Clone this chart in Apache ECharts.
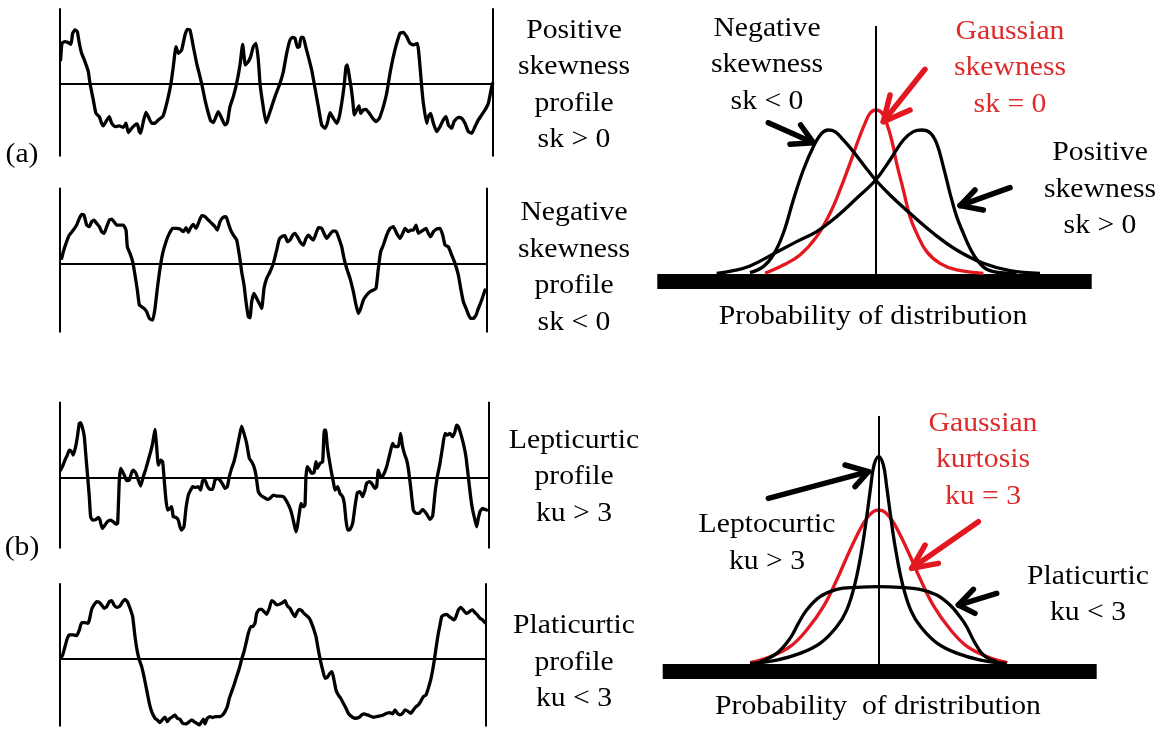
<!DOCTYPE html>
<html>
<head>
<meta charset="utf-8">
<script src="https://cdn.jsdelivr.net/npm/echarts@6/dist/echarts.min.js"></script>
<style>html,body{margin:0;padding:0;background:#fff}#chart{width:1172px;height:733px}</style>
</head>
<body>
<div id="chart"></div>
<script>
// ---------- DATA (position along profile, height relative to mean line) ----------
const profilePositiveSkew = [[62,70],[66,120],[75,125],[85,122],[93,117],[98,150],[105,160],[112,155],[118,120],[125,90],[135,65],[145,35],[150,0],[160,-50],[168,-90],[178,-100],[185,-120],[190,-128],[198,-115],[208,-100],[215,-120],[225,-130],[238,-128],[250,-132],[258,-120],[265,-148],[275,-135],[285,-125],[292,-122],[298,-145],[302,-150],[310,-115],[318,-87],[325,-100],[335,-120],[345,-120],[355,-110],[368,-100],[375,-80],[385,-40],[393,0],[400,50],[408,110],[415,90],[425,100],[435,145],[442,162],[450,160],[460,110],[470,60],[480,20],[487,-10],[495,-50],[505,-90],[512,-112],[520,-118],[530,-95],[535,-85],[545,-105],[555,-125],[562,-118],[570,-70],[580,-40],[590,0],[600,55],[608,117],[616,55],[625,65],[632,80],[640,110],[648,120],[655,70],[660,0],[668,-60],[678,-118],[685,-100],[695,-70],[705,-40],[720,0],[730,35],[740,90],[750,130],[757,138],[765,135],[772,108],[778,110],[783,138],[790,138],[797,110],[805,80],[815,40],[825,-15],[835,-70],[845,-125],[855,-135],[862,-120],[870,-88],[880,-105],[890,-120],[898,-100],[905,-60],[912,-10],[918,50],[922,55],[928,20],[933,-10],[938,-50],[943,-95],[950,-80],[957,-68],[962,-90],[970,-80],[978,-78],[988,-90],[998,-105],[1008,-115],[1018,-105],[1030,-70],[1040,-30],[1050,30],[1060,80],[1070,120],[1080,150],[1090,153],[1100,140],[1110,120],[1120,115],[1132,120],[1140,50],[1145,-10],[1150,-60],[1160,-120],[1165,-100],[1172,-90],[1180,-120],[1190,-145],[1200,-130],[1210,-110],[1218,-100],[1225,-125],[1235,-135],[1242,-115],[1255,-102],[1265,-105],[1275,-120],[1285,-145],[1295,-150],[1305,-130],[1315,-110],[1325,-95],[1335,-80],[1345,-60],[1355,-10],[1358,0]];

const profileNegativeSkew = [[65,15],[70,35],[78,60],[88,85],[100,100],[110,115],[118,135],[125,147],[132,145],[140,115],[148,110],[155,125],[162,130],[170,120],[178,110],[185,95],[192,90],[200,110],[208,130],[215,133],[222,125],[230,115],[240,115],[250,115],[258,100],[262,50],[270,30],[278,5],[285,-35],[292,-80],[298,-125],[305,-130],[312,-135],[320,-145],[328,-165],[338,-170],[345,-135],[352,-75],[360,-15],[368,30],[378,65],[388,90],[398,105],[410,105],[420,103],[430,95],[438,107],[445,93],[452,107],[460,117],[468,105],[475,120],[485,143],[495,140],[505,130],[515,120],[525,110],[532,100],[540,125],[548,137],[558,140],[565,120],[572,100],[580,85],[590,70],[598,25],[605,-25],[612,-65],[618,-115],[625,-160],[630,-163],[635,-115],[642,-90],[650,-105],[658,-120],[665,-135],[672,-75],[680,-45],[690,-25],[700,0],[710,40],[718,73],[725,80],[735,83],[742,65],[750,70],[758,85],[765,90],[772,80],[780,65],[790,55],[798,75],[805,85],[812,77],[820,70],[828,90],[835,107],[845,105],[852,90],[860,75],[868,85],[878,97],[888,97],[895,80],[905,50],[912,15],[920,-15],[930,-45],[940,-85],[948,-125],[955,-150],[962,-135],[970,-110],[980,-95],[990,-85],[1000,-80],[1008,-75],[1015,-15],[1022,35],[1030,55],[1040,85],[1050,105],[1060,110],[1070,90],[1080,75],[1088,90],[1095,105],[1105,95],[1112,100],[1120,100],[1128,115],[1135,90],[1142,95],[1150,100],[1158,105],[1165,90],[1172,80],[1180,95],[1190,103],[1200,105],[1208,85],[1215,55],[1225,50],[1235,25],[1245,0],[1255,-35],[1262,-75],[1270,-115],[1278,-135],[1285,-153],[1292,-165],[1300,-165],[1308,-155],[1315,-135],[1325,-110],[1335,-80]];

const profileLeptokurtic = [[62,22],[68,34],[75,52],[82,67],[88,82],[95,77],[100,67],[108,97],[113,127],[118,162],[122,164],[128,147],[133,122],[138,62],[143,2],[148,-58],[152,-118],[158,-128],[168,-126],[175,-120],[180,-128],[187,-153],[195,-143],[202,-133],[212,-128],[220,-133],[228,-140],[233,-138],[238,-8],[242,27],[248,17],[255,2],[260,-10],[268,-8],[275,14],[280,22],[288,12],[295,-8],[302,-26],[310,2],[318,27],[325,52],[332,77],[338,102],[345,144],[350,92],[355,37],[362,52],[368,47],[372,2],[378,-68],[383,-98],[390,-93],[395,-88],[400,-118],[408,-120],[415,-128],[420,-148],[425,-158],[432,-148],[438,-93],[445,-53],[452,-38],[458,-28],[468,-30],[475,-28],[482,-38],[488,-10],[495,-8],[502,-26],[510,-36],[518,-36],[525,-8],[532,-3],[540,-8],[548,-20],[555,-33],[562,-28],[568,2],[575,27],[582,47],[590,82],[598,122],[605,154],[612,132],[620,102],[628,57],[635,47],[642,32],[648,7],[655,-43],[662,-53],[672,-60],[682,-66],[690,-63],[700,-53],[710,-56],[720,-56],[730,-58],[738,-68],[748,-88],[755,-108],[762,-138],[768,-163],[772,-148],[778,-108],[783,-78],[790,-88],[795,-83],[798,2],[802,32],[808,24],[815,12],[822,14],[828,47],[832,27],[840,42],[848,47],[853,142],[857,142],[862,92],[868,52],[875,12],[880,-13],[885,-38],[893,-28],[900,-48],[908,-58],[913,-78],[918,-128],[923,-158],[930,-156],[938,-138],[945,-88],[952,-46],[960,-43],[968,-58],[975,-38],[980,-18],[988,-13],[995,-18],[1005,-33],[1010,-28],[1015,22],[1022,2],[1030,7],[1040,32],[1050,72],[1058,102],[1065,92],[1075,92],[1082,132],[1087,97],[1093,72],[1100,52],[1105,27],[1112,-28],[1120,-98],[1128,-108],[1138,-108],[1148,-96],[1155,-103],[1162,-113],[1170,-126],[1178,-116],[1185,-48],[1192,2],[1200,42],[1208,92],[1215,132],[1222,127],[1230,132],[1238,122],[1245,137],[1250,157],[1255,152],[1262,132],[1270,102],[1278,62],[1285,2],[1292,-58],[1298,-98],[1305,-128],[1310,-148],[1315,-123],[1320,-103],[1328,-93],[1335,-96],[1340,-98]];

const profilePlatykurtic = [[62,2],[68,12],[75,37],[82,62],[88,72],[100,72],[110,70],[118,87],[125,109],[135,109],[143,107],[148,117],[155,149],[162,162],[170,172],[178,170],[185,162],[192,152],[200,157],[208,172],[215,175],[222,162],[230,155],[240,159],[248,172],[255,179],[262,172],[270,152],[278,127],[285,67],[292,22],[298,-3],[305,-23],[312,-53],[320,-93],[328,-133],[335,-158],[345,-178],[352,-183],[360,-191],[368,-181],[375,-175],[382,-188],[390,-178],[398,-173],[405,-168],[412,-178],[420,-181],[428,-193],[438,-195],[448,-188],[455,-183],[462,-188],[470,-193],[478,-198],[485,-188],[490,-181],[495,-195],[502,-178],[510,-173],[518,-176],[525,-173],[532,-173],[540,-173],[548,-168],[555,-158],[562,-143],[568,-118],[575,-98],[582,-78],[590,-53],[598,-28],[605,-1],[612,22],[618,47],[625,77],[632,97],[638,97],[645,107],[650,137],[658,149],[665,149],[672,142],[680,134],[688,152],[695,175],[702,171],[710,162],[720,165],[728,169],[735,175],[742,159],[750,152],[758,137],[765,127],[772,142],[778,149],[785,145],[792,137],[800,130],[808,122],[815,107],[822,87],[828,67],[835,27],[842,-8],[848,-33],[855,-58],[862,-55],[870,-43],[876,-38],[882,-63],[888,-93],[895,-108],[902,-118],[910,-133],[918,-148],[925,-163],[935,-173],[945,-178],[958,-175],[965,-168],[972,-165],[982,-168],[990,-171],[1000,-175],[1010,-173],[1020,-171],[1030,-168],[1040,-163],[1050,-161],[1058,-165],[1065,-153],[1072,-163],[1080,-168],[1088,-163],[1095,-153],[1105,-158],[1112,-163],[1120,-153],[1128,-143],[1135,-138],[1142,-128],[1150,-113],[1158,-108],[1165,-88],[1172,-63],[1178,-33],[1183,-3],[1188,32],[1195,77],[1200,102],[1205,127],[1212,132],[1220,134],[1228,127],[1235,122],[1242,117],[1248,127],[1255,147],[1262,155],[1270,147],[1278,137],[1285,139],[1292,145],[1298,147],[1305,139],[1312,132],[1320,122],[1328,117],[1335,109]];

// distribution curves: [position, density]
const skewGaussian = [[345,0],[400,25],[450,55],[500,110],[540,180],[570,250],[600,330],[625,400],[645,450],[660,480],[677,490],[695,482],[710,450],[725,400],[740,330],[760,250],[780,170],[800,120],[830,65],[870,30],[920,10],[1000,0]];
const skewNegative = [[300,2],[340,20],[370,55],[400,120],[430,220],[460,310],[490,380],[515,420],[535,430],[555,425],[580,400],[610,365],[645,320],[677,280],[720,235],[780,180],[850,120],[920,70],[1000,30],[1080,8],[1170,0]];
const skewPositive = [[200,0],[250,8],[300,22],[370,58],[440,95],[500,125],[560,170],[620,225],[677,280],[720,340],[760,400],[790,425],[815,430],[840,422],[860,390],[880,320],[900,240],[920,170],[940,120],[960,75],[985,35],[1010,12],[1050,2],[1100,0]];
const skewCenter = 677;

const kurtGaussian = [[300,4],[360,22],[420,52],[470,102],[520,172],[560,252],[600,342],[640,422],[665,454],[686,462],[707,454],[732,422],[772,342],[812,252],[852,172],[902,102],[952,52],[1012,22],[1072,4]];
const kurtLeptokurtic = [[300,2],[380,12],[450,32],[510,62],[560,112],[590,162],[615,242],[635,342],[650,442],[662,532],[672,597],[686,622],[700,597],[710,532],[722,442],[737,342],[757,242],[782,162],[812,112],[862,62],[922,32],[992,12],[1070,2]];
const kurtPlatykurtic = [[330,7],[380,32],[420,77],[445,122],[470,162],[510,202],[560,224],[620,230],[686,232],[750,230],[810,224],[860,207],[900,177],[930,142],[950,112],[970,72],[1000,27],[1040,7]];
const kurtCenter = 686;

// annotation arrows: [tail, tip, wing1, wing2] in panel data units
const arrowSkewNegative = [[355,452],[490,392],[452,445],[420,387]];
const arrowSkewGaussian = [[825,612],[700,455],[720,535],[780,490]];
const arrowSkewPositive = [[1080,257],[930,203],[975,250],[1000,190]];
const arrowKurtLepto = [[355,497],[655,577],[585,597],[615,532]];
const arrowKurtGaussian = [[985,427],[785,287],[825,357],[865,302]];
const arrowKurtPlaty = [[1040,212],[925,177],[970,224],[975,152]];

// text labels
const labelPosSkewProfile = ['Positive', 'skewness', 'profile', 'sk > 0'];
const labelNegSkewProfile = ['Negative', 'skewness', 'profile', 'sk < 0'];
const labelLeptoProfile = ['Lepticurtic', 'profile', 'ku > 3'];
const labelPlatyProfile = ['Platicurtic', 'profile', 'ku < 3'];
const labelNegSkew = ['Negative', 'skewness', 'sk < 0'];
const labelGaussSkew = ['Gaussian', 'skewness', 'sk = 0'];
const labelPosSkew = ['Positive', 'skewness', 'sk > 0'];
const labelGaussKurt = ['Gaussian', 'kurtosis', 'ku = 3'];
const labelLepto = ['Leptocurtic', 'ku > 3'];
const labelPlaty = ['Platicurtic', 'ku < 3'];
const axisTitleSkew = 'Probability of distribution';
const axisTitleKurt = 'Probability  of dristribution';
const panelTags = ['(a)', '(b)'];

// ---------- LAYOUT ----------
const RED = '#e3171f';
const RED_TEXT = '#dd2a2a';
const FONT = '"Liberation Serif", "Times New Roman", serif';

const profilePanels = [
  {data: profilePositiveSkew, left: 59.3, top: 8.3, width: 433.4, height: 148.3, xMin: 58, xMax: 1358, yMin: -220, yMax: 225},
  {data: profileNegativeSkew, left: 60, top: 187.7, width: 426.7, height: 144.7, xMin: 60, xMax: 1340, yMin: -207, yMax: 227},
  {data: profileLeptokurtic, left: 59.3, top: 401.7, width: 429, height: 146.7, xMin: 58, xMax: 1345, yMin: -213, yMax: 227},
  {data: profilePlatykurtic, left: 60, top: 583.3, width: 426, height: 143.3, xMin: 60, xMax: 1338, yMin: -203, yMax: 227}
];
const distPanels = [
  {left: 657.3, top: 26, width: 434.4, height: 254.8, xMin: 22, xMax: 1325, yMin: -22.5, yMax: 742,
   curves: [[skewGaussian, RED], [skewNegative, '#000'], [skewPositive, '#000']], center: skewCenter,
   arrows: [[arrowSkewNegative, '#000'], [arrowSkewGaussian, RED], [arrowSkewPositive, '#000']]},
  {left: 662.7, top: 416, width: 434, height: 255.7, xMin: 38, xMax: 1340, yMin: -23, yMax: 744,
   curves: [[kurtGaussian, RED], [kurtPlatykurtic, '#000'], [kurtLeptokurtic, '#000']], center: kurtCenter,
   arrows: [[arrowKurtLepto, '#000'], [arrowKurtGaussian, RED], [arrowKurtPlaty, '#000']]}
];

const grid = [], xAxis = [], yAxis = [], series = [];
const hidden = {show: false};

profilePanels.forEach((p, i) => {
  grid.push({left: p.left, top: p.top, width: p.width, height: p.height, show: false});
  xAxis.push({type: 'value', gridIndex: i, min: p.xMin, max: p.xMax,
    axisLine: {show: true, onZero: true, lineStyle: {color: '#000', width: 2, cap: 'butt'}},
    axisTick: hidden, axisLabel: hidden, splitLine: hidden});
  const yl = yAxis.length;
  yAxis.push({type: 'value', gridIndex: i, min: p.yMin, max: p.yMax, position: 'left',
    axisLine: {show: true, onZero: false, lineStyle: {color: '#000', width: 2, cap: 'butt'}},
    axisTick: hidden, axisLabel: hidden, splitLine: hidden});
  yAxis.push({type: 'value', gridIndex: i, min: p.yMin, max: p.yMax, position: 'right',
    axisLine: {show: true, onZero: false, lineStyle: {color: '#000', width: 2, cap: 'butt'}},
    axisTick: hidden, axisLabel: hidden, splitLine: hidden});
  series.push({type: 'line', xAxisIndex: i, yAxisIndex: yl, data: p.data, showSymbol: false,
    smooth: 0.15, silent: true, clip: false,
    lineStyle: {color: '#000', width: 3.3, join: 'round', cap: 'round'}});
});

distPanels.forEach((p, k) => {
  const gi = grid.length;
  grid.push({left: p.left, top: p.top, width: p.width, height: p.height, show: false});
  xAxis.push({type: 'value', gridIndex: gi, min: p.xMin, max: p.xMax, position: 'bottom',
    axisLine: {show: true, onZero: false, lineStyle: {color: '#000', width: 15, cap: 'butt'}},
    axisTick: hidden, axisLabel: hidden, splitLine: hidden});
  const yi = yAxis.length;
  yAxis.push({type: 'value', gridIndex: gi, min: p.yMin, max: p.yMax, show: false,
    axisLine: hidden, axisTick: hidden, axisLabel: hidden, splitLine: hidden});
  p.curves.forEach(([d, c], j) => {
    const s = {type: 'line', xAxisIndex: gi, yAxisIndex: yi, data: d, showSymbol: false,
      smooth: 0.4, silent: true, clip: false, z: 3,
      lineStyle: {color: c, width: 3.3, join: 'round'}};
    if (j === 0) {
      s.markLine = {silent: true, symbol: 'none', label: {show: false}, animation: false,
        lineStyle: {color: '#000', width: 2, type: 'solid'}, data: [{xAxis: p.center}]};
    }
    series.push(s);
  });
  p.arrows.forEach(([a, c]) => {
    series.push({type: 'lines', coordinateSystem: 'cartesian2d', xAxisIndex: gi, yAxisIndex: yi,
      polyline: true, silent: true, z: 4,
      lineStyle: {color: c, width: 5.5, opacity: 1, cap: 'round', join: 'round'},
      data: [{coords: [a[0], a[1]]}, {coords: [a[2], a[1], a[3]]}]});
  });
});

function textBlock(lines, x, y, color) {
  return {type: 'text', x: x, y: y, scaleX: 1.1, scaleY: 1, z: 10,
    style: {text: lines.join('\n'), fill: color || '#000', font: '27px ' + FONT,
      align: 'center', verticalAlign: 'middle', lineHeight: 36.5}};
}

const graphic = [
  textBlock(labelPosSkewProfile, 574, 85.5),
  textBlock(labelNegSkewProfile, 574, 268),
  textBlock(labelLeptoProfile, 574, 477),
  textBlock(labelPlatyProfile, 574, 662.5),
  textBlock(labelNegSkew, 767, 65),
  textBlock(labelGaussSkew, 1010, 68.3, RED_TEXT),
  textBlock(labelPosSkew, 1100, 189.5),
  textBlock([axisTitleSkew], 873, 317),
  textBlock(labelGaussKurt, 983, 460, RED_TEXT),
  textBlock(labelLepto, 767, 543.5),
  textBlock(labelPlaty, 1088, 595),
  textBlock([axisTitleKurt], 878, 707),
  textBlock([panelTags[0]], 22, 155),
  textBlock([panelTags[1]], 22, 548)
];

const chart = echarts.init(document.getElementById('chart'), null, {renderer: 'canvas'});
chart.setOption({animation: false, backgroundColor: '#fff', grid, xAxis, yAxis, series, graphic});
</script>
</body>
</html>
